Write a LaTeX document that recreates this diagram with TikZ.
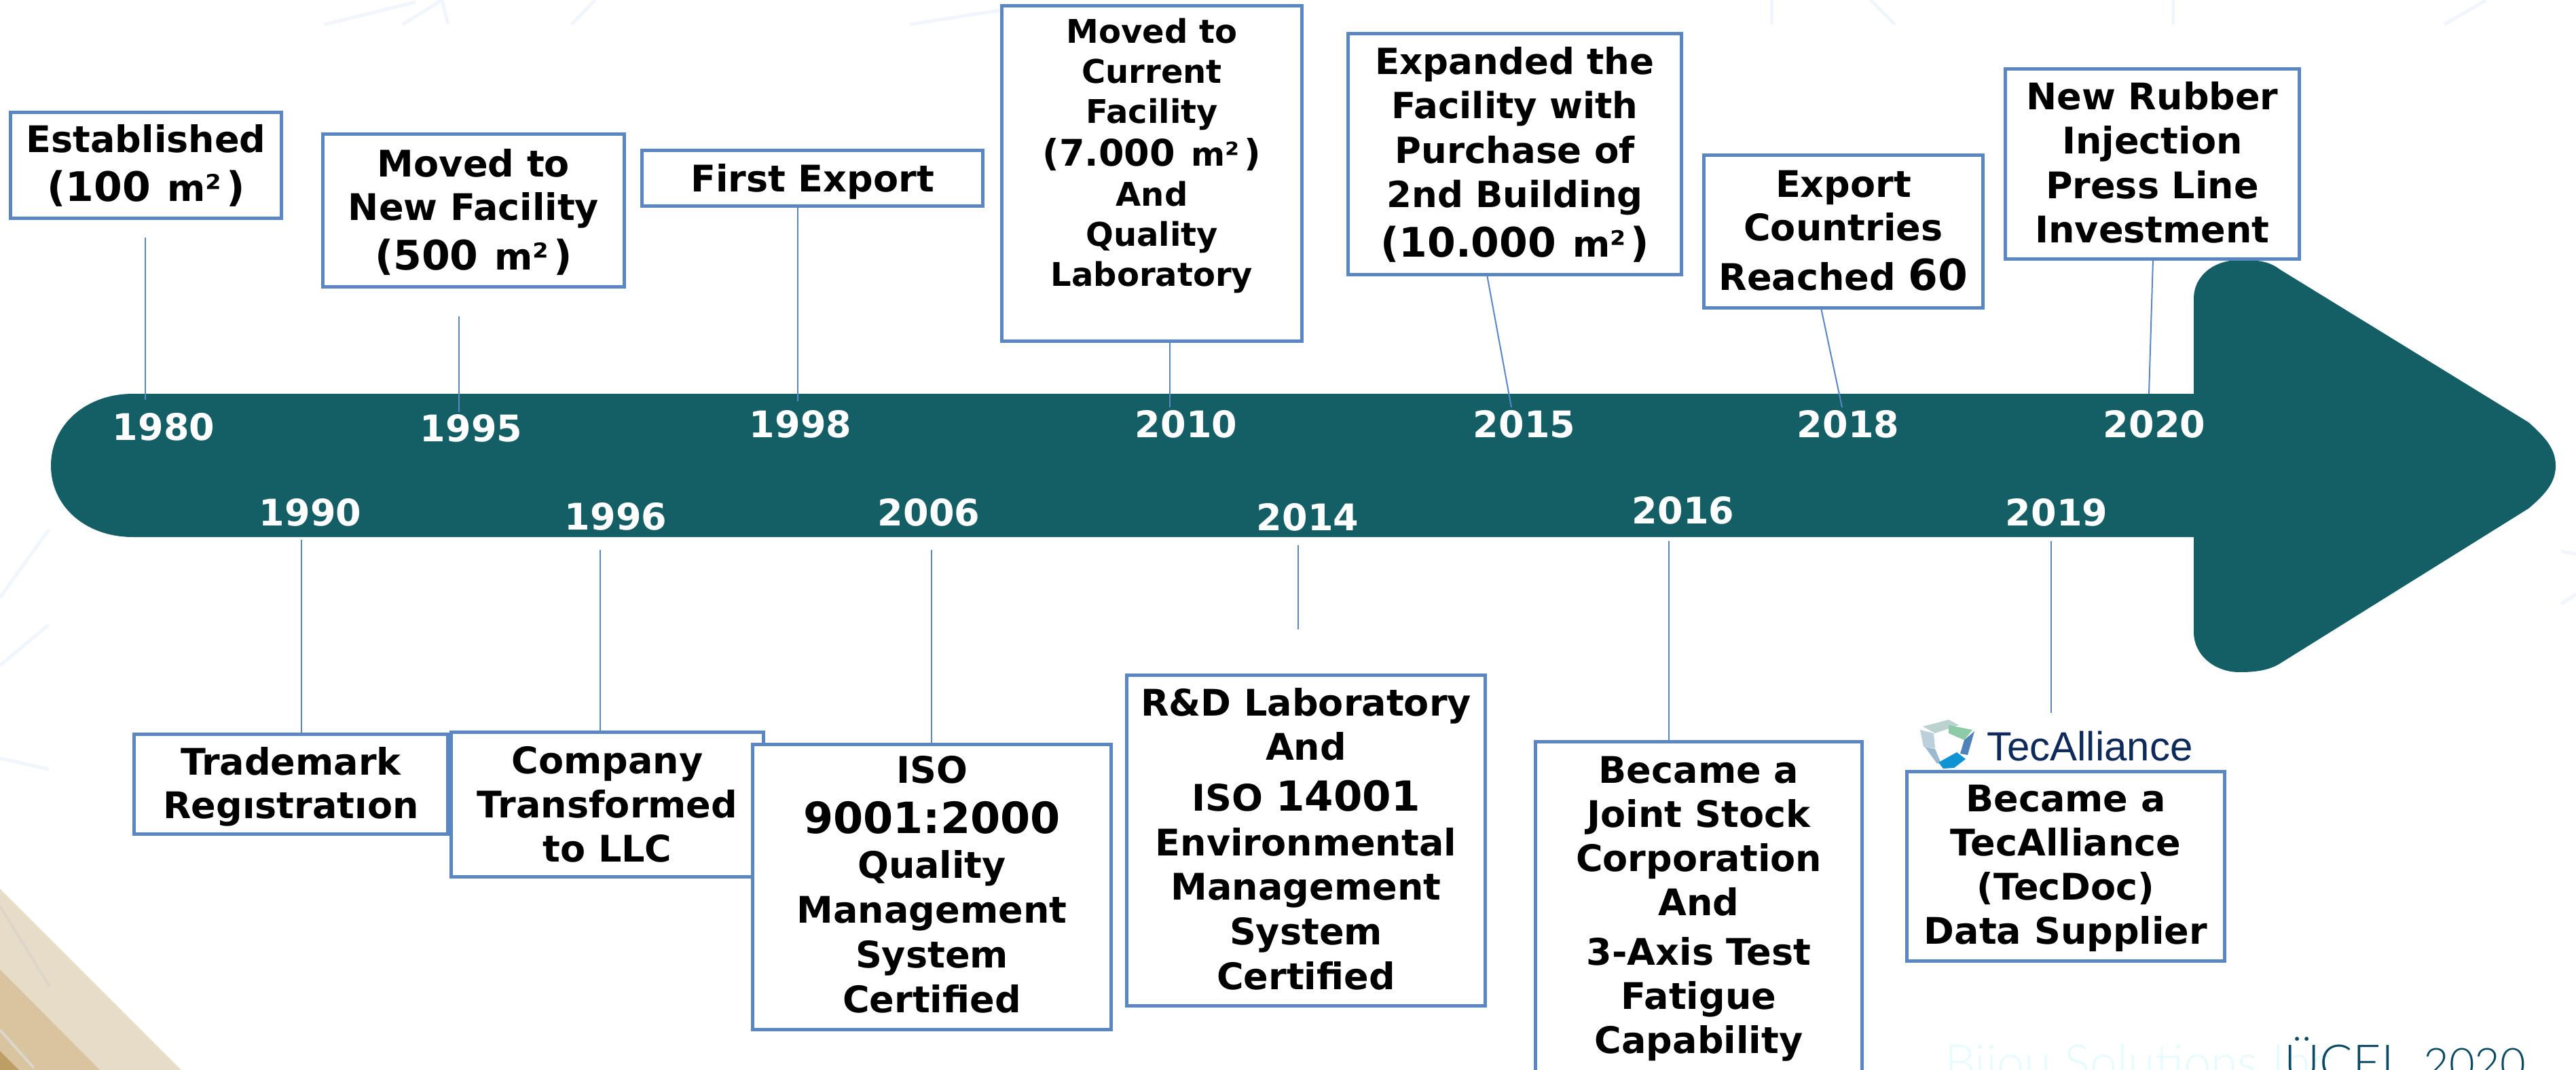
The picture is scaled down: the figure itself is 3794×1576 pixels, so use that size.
\documentclass[tikz,border=0pt]{standalone}
\usepackage{fontspec}
\setmainfont{DejaVu Sans}
\newfontfamily\logofont{Liberation Sans}
\newfontfamily\lightfont{Lato Light}
\definecolor{teal}{HTML}{145E66}
\definecolor{boxblue}{HTML}{5A86C1}
\definecolor{wisp}{HTML}{F1F5FC}
\definecolor{tanA}{HTML}{E7DCC8}
\definecolor{tanB}{HTML}{D9C4A0}
\definecolor{tanC}{HTML}{BD9F66}
\definecolor{streak}{HTML}{DDD6C8}
\definecolor{signcol}{HTML}{0B4A63}
\definecolor{palecol}{HTML}{E6FBFC}
\definecolor{logoA}{HTML}{BCD2D0}
\definecolor{logoB}{HTML}{8DCBA8}
\definecolor{logoC}{HTML}{4E82B8}
\definecolor{logoD}{HTML}{1093D3}
\definecolor{logoE}{HTML}{9CB9D2}
\definecolor{logoF}{HTML}{BCD0DC}
\definecolor{logoT}{HTML}{0E2A5A}
\tikzset{
  evbox/.style={draw=boxblue,line width=5pt,fill=white,inner sep=0pt,outer sep=0pt},
  conn/.style={draw=boxblue,line width=2pt},
  year/.style={text=white,font=\bfseries\fontsize{54pt}{54pt}\selectfont,inner sep=0pt},
  wispy/.style={draw=wisp,line width=5pt}
}
\setlength\lineskiplimit{-300pt}
\setlength\parindent{0pt}
% big numerals inside the captions
\newcommand\nm[2][60]{{\fontsize{#1pt}{\baselineskip}\selectfont #2}}
\newcommand\sqm{\hspace{24pt}m²\hspace{7pt}}
% name, x1,y1,x2,y2 (outer edges), first baseline, line skip, font size, lines
\newcommand\evnode[9]{%
  \pgfmathsetmacro\bw{#4-#2-5}%
  \pgfmathsetmacro\bh{#5-#3-5}%
  \pgfmathsetmacro\bb{#6-2.5}%
  \node[evbox] (#1) at ({(#2+#4)/2},{(#3+#5)/2})
   {\parbox[c][\bh pt][t]{\bw pt}{\centering\bfseries\fontsize{#8pt}{#7pt}\selectfont\rule{0pt}{\bb pt}#9\par}};}
\begin{document}
\begin{tikzpicture}[x=1pt,y=-1pt]
\clip (0,0) rectangle (3794,1576);
\fill[white] (0,0) rectangle (3794,1576);
% faint background
\draw[wispy] (478,36) -- (612,3);
\draw[wispy] (593,36) -- (651,0);
\draw[wispy] (651,0) -- (660,36);
\draw[wispy] (842,36) -- (876,0);
\draw[wispy] (1340,36) -- (1473,15);
\draw[wispy] (2609,36) -- (2609,0);
\draw[wispy] (2755,0) -- (2791,36);
\draw[wispy] (3200,36) -- (3200,0);
\draw[wispy] (3600,36) -- (3662,0);
\draw[wispy] (0,880) -- (72,780);
\draw[wispy] (0,980) -- (72,920);
\draw[wispy] (0,1117) -- (72,1133);
\draw[wispy] (3772,812) -- (3794,816);
\draw[wispy] (3772,890) -- (3794,875);
% corner wedges
\fill[tanA] (0,1309) -- (267,1576) -- (0,1576) -- cycle;
\fill[tanB] (0,1428) -- (147,1576) -- (0,1576) -- cycle;
\fill[tanC] (0,1548) -- (28,1576) -- (0,1576) -- cycle;
\draw[streak,line width=4pt] (0,1335) -- (73,1453);
\draw[streak,line width=4pt] (0,1517) -- (50,1573);
% signature
\node[anchor=base west,inner sep=0pt,text=palecol,font=\lightfont\fontsize{72pt}{72pt}\selectfont] (pale) at (2864,1590) {Bijou Solutions Inc.};
\node[anchor=base west,inner sep=0pt,text=signcol,font=\lightfont\fontsize{72pt}{72pt}\selectfont] (sign) at (3364,1590) {ÜCEL\hspace{26pt}{\fontsize{65pt}{65pt}\selectfont 2020}};
% the arrow
\fill[teal] (3231,580) -- (3231,440)
  .. controls (3231,405) and (3262,383) .. (3298,383)
  .. controls (3320,383) and (3340,383) .. (3358,397)
  -- (3724,622)
  .. controls (3750,645) and (3764,662) .. (3764,686)
  .. controls (3764,710) and (3750,727) .. (3724,749)
  -- (3360,976)
  .. controls (3342,988) and (3320,990) .. (3298,990)
  .. controls (3262,990) and (3231,965) .. (3231,931)
  -- (3231,791) -- (196,791)
  .. controls (125,791) and (75,745) .. (75,686)
  .. controls (75,627) and (125,580) .. (196,580) -- cycle;
% captions above
\evnode{bA}{13}{163}{417}{324}{61}{72}{54}{Established\\\nm{(100}\sqm\nm{)}}
\evnode{bB}{473}{195}{922}{425}{65}{64}{54}{Moved to\\New Facility\\[9pt]\nm{(500}\sqm\nm{)}}
\evnode{bC}{943}{219}{1450}{306}{63}{64}{54}{First Export}
\evnode{bD}{1473}{6}{1920}{505}{57}{59}{48}{Moved to\\Current\\Facility\\[4pt]\nm[54]{(7.000}\sqm\nm[54]{)}\\And\\Quality\\Laboratory}
\evnode{bE}{1983}{47}{2479}{407}{62}{65.5}{53}{Expanded the\\Facility with\\Purchase of\\2nd Building\\[7pt]\nm{(10.000}\sqm\nm{)}}
\evnode{bF}{2507}{226}{2923}{456}{64}{64}{54}{Export\\Countries\\[9pt]Reached \nm[63]{60}}
\evnode{bG}{2951}{99}{3389}{384}{62}{65.6}{54}{New Rubber\\Injection\\Press Line\\Investment}
% captions below
\evnode{bH}{195}{1079}{662}{1231}{62}{64}{54}{Trademark\\Regıstratıon}
\evnode{bI}{662}{1076}{1127}{1294}{63}{65}{54}{Company\\Transformed\\to LLC}
\evnode{bJ}{1106}{1094}{1639}{1519}{59}{66}{54}{ISO\\[8pt]\nm[63.5]{9001:2000}\\Quality\\Management\\System\\Certified}
\evnode{bK}{1657}{992}{2190}{1484}{62}{65.7}{54}{R\&D Laboratory\\And\\[9pt]ISO \nm[61]{14001}\\Environmental\\Management\\System\\Certified}
\evnode{bL}{2259}{1090}{2745}{1640}{63}{65.3}{54}{Became a\\Joint Stock\\Corporation\\And\\[7pt]3-Axis Test\\Fatigue\\Capability}
\evnode{bM}{2806}{1134}{3279}{1418}{61}{65.3}{54}{Became a\\TecAlliance\\(TecDoc)\\Data Supplier}
% free ends and attachment points of the connectors
\coordinate (cAt) at (214,350);   \coordinate (cAb) at (214,589);
\coordinate (cBt) at (676,466);   \coordinate (cBb) at (676,607);
\coordinate (cCb) at (1175,591);
\coordinate (cDb) at (1723,600);
\coordinate (cEt) at (2190,407);  \coordinate (cEb) at (2226,600);
\coordinate (cFt) at (2682,456);  \coordinate (cFb) at (2713,600);
\coordinate (cGt) at (3171,384);  \coordinate (cGb) at (3165,580);
\coordinate (cHt) at (444,795);
\coordinate (cIt) at (884,810);
\coordinate (cJt) at (1372,810);
\coordinate (cKt) at (1912,803);  \coordinate (cKb) at (1912,927);
\coordinate (cLt) at (2458,797);
\coordinate (cMt) at (3021,797);  \coordinate (cMb) at (3021,1050);
\draw[conn] (cAt) -- (cAb);
\draw[conn] (cBt) -- (cBb);
\draw[conn] (bC.south -| cCb) -- (cCb);
\draw[conn] (bD.south -| cDb) -- (cDb);
\draw[conn] (bE.south -| cEt) -- (cEb);
\draw[conn] (bF.south -| cFt) -- (cFb);
\draw[conn] (bG.south -| cGt) -- (cGb);
\draw[conn] (cHt) -- (bH.north -| cHt);
\draw[conn] (cIt) -- (bI.north -| cIt);
\draw[conn] (cJt) -- (bJ.north -| cJt);
\draw[conn] (cKt) -- (cKb);
\draw[conn] (cLt) -- (bL.north -| cLt);
\draw[conn] (cMt) -- (cMb);
% years
\node[year] (yA) at (241,629) {1980};
\node[year] (yB) at (694,631) {1995};
\node[year] (yC) at (1179,625) {1998};
\node[year] (yD) at (1747,625) {2010};
\node[year] (yE) at (2245,625) {2015};
\node[year] (yF) at (2722,625) {2018};
\node[year] (yG) at (3173,625) {2020};
\node[year] (yH) at (457,755) {1990};
\node[year] (yI) at (907,761) {1996};
\node[year] (yJ) at (1368,755) {2006};
\node[year] (yK) at (1926,762) {2014};
\node[year] (yL) at (2479,752) {2016};
\node[year] (yM) at (3029,755) {2019};
% logo
\fill[logoA] (2832,1070) -- (2870,1060) -- (2885,1068) -- (2850,1080) -- cycle;
\fill[logoB] (2870,1068) -- (2905,1075) -- (2893,1090) -- (2870,1080) -- cycle;
\fill[logoC] (2908,1077) -- (2898,1112) -- (2887,1110) -- (2893,1090) -- cycle;
\fill[logoE] (2835,1100) -- (2850,1103) -- (2858,1122) -- (2853,1125) -- cycle;
\fill[logoF] (2828,1075) -- (2848,1080) -- (2850,1102) -- (2833,1100) -- cycle;
\fill[logoD] (2855,1123) -- (2882,1108) -- (2895,1118) -- (2878,1131) -- (2862,1132) -- cycle;
\node[anchor=base west,inner sep=0pt,text=logoT,font=\logofont\fontsize{60pt}{60pt}\selectfont] (logotext) at (2926,1120) {TecAlliance};
\end{tikzpicture}
\end{document}
